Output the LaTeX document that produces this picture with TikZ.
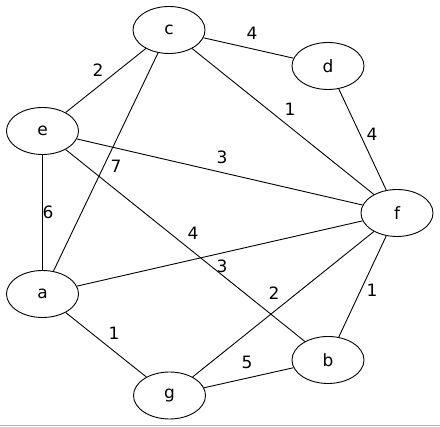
\documentclass[tikz,border=0pt]{standalone}
\usepackage{fontspec}
\setmainfont{DejaVu Sans}
\usetikzlibrary{shapes.geometric}
\begin{document}
\begin{tikzpicture}[x=1pt,y=-1pt,
  vert/.style={draw,ellipse,minimum width=72pt,minimum height=47pt,inner sep=0pt,font=\fontsize{17}{20}\selectfont,line width=0.9pt},
  edge/.style={line width=0.9pt},
  wlabel/.style={font=\fontsize{17}{20}\selectfont,inner sep=0pt}]
\useasboundingbox (0,0) rectangle (440,427);
\fill[white] (0,0) rectangle (440,427);
\fill[gray!60] (0,425) rectangle (440,426.3);
\node[vert] (c) at (169,30) {c};
\node[vert] (d) at (328,66) {d};
\node[vert] (e) at (42.5,131) {e};
\node[vert] (f) at (397,213) {f};
\node[vert] (a) at (42.5,294) {a};
\node[vert] (b) at (328,360) {b};
\node[vert] (g) at (169.5,395.5) {g};
\draw[edge] (c) -- (d);
\draw[edge] (c) -- (e);
\draw[edge] (c) -- (a);
\draw[edge] (c) -- (f);
\draw[edge] (d) -- (f);
\draw[edge] (e) -- (f);
\draw[edge] (e) -- (a);
\draw[edge] (e) -- (b);
\draw[edge] (a) -- (f);
\draw[edge] (f) -- (g);
\draw[edge] (f) -- (b);
\draw[edge] (g) -- (b);
\draw[edge] (a) -- (g);
\node[wlabel] (l1) at (252,33) {4};
\node[wlabel] (l2) at (98,70) {2};
\node[wlabel] (l3) at (116,166) {7};
\node[wlabel] (l4) at (290,109) {1};
\node[wlabel] (l5) at (372,134) {4};
\node[wlabel] (l6) at (222,157) {3};
\node[wlabel] (l7) at (48,212) {6};
\node[wlabel] (l8) at (193,233) {4};
\node[wlabel] (l9) at (222,266) {3};
\node[wlabel] (l10) at (274,293) {2};
\node[wlabel] (l11) at (372,290) {1};
\node[wlabel] (l12) at (247,362) {5};
\node[wlabel] (l13) at (114,333) {1};
\end{tikzpicture}
\end{document}
